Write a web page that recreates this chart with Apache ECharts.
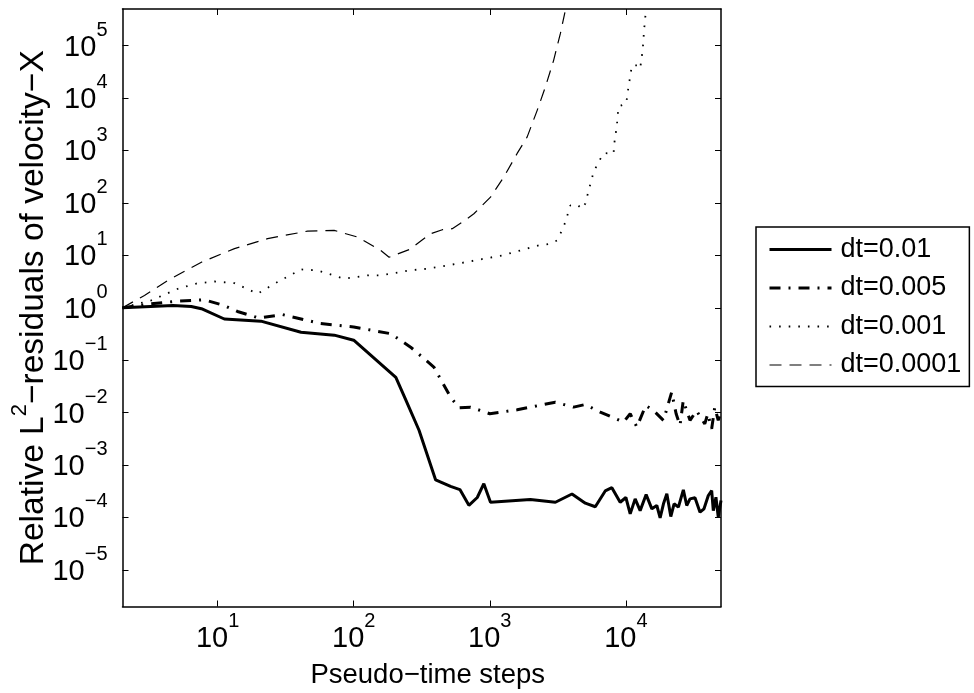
<!DOCTYPE html>
<html>
<head>
<meta charset="utf-8">
<script src="https://cdn.jsdelivr.net/npm/echarts@6/dist/echarts.min.js"></script>
<style>
html,body{margin:0;padding:0;background:#fff;}
#chart{width:974px;height:693px;}
</style>
</head>
<body>
<div id="chart"></div>
<script>
// ---- data ----
const seriesNames = ['dt=0.01', 'dt=0.005', 'dt=0.001', 'dt=0.0001'];

const dt01X = [2, 4.7, 6.4, 7.6, 11.2, 20.8, 41, 72, 100, 204, 240, 302, 400, 515, 603, 702, 809, 904, 1012, 1986, 3033, 4018, 5035, 5960, 7050, 7890, 9080, 10000, 10757, 11700, 12730, 14090, 15520, 16880, 17850, 18890, 20000, 21380, 22610, 24320, 26440, 28000, 29600, 32200, 35060, 37500, 40340, 42700, 43900, 45900, 47750, 50000];
const dt01Y = [1.0, 1.1, 1.06, 0.96, 0.61, 0.555, 0.34, 0.30, 0.24, 0.047, 0.018, 0.0046, 5.2e-4, 3.9e-4, 3.4e-4, 1.7e-4, 2.4e-4, 4.4e-4, 1.95e-4, 2.2e-4, 1.95e-4, 2.8e-4, 1.87e-4, 1.6e-4, 3.2e-4, 3.7e-4, 1.95e-4, 2.4e-4, 1.17e-4, 2.26e-4, 1.35e-4, 2.73e-4, 1.46e-4, 1.69e-4, 9.8e-5, 1.82e-4, 2.82e-4, 1.04e-4, 1.82e-4, 1.57e-4, 3.36e-4, 1.69e-4, 2.26e-4, 2.37e-4, 1.26e-4, 1.46e-4, 2.62e-4, 3.26e-4, 1.35e-4, 2.43e-4, 1.01e-4, 2.1e-4];

const dt005X = [2, 3.25, 4.82, 8.0, 11.2, 14, 20, 30, 57, 100, 187, 262, 388, 515, 593, 722, 1000, 1590, 3030, 4130, 5035, 6480, 9610, 10757, 12050, 14000, 16000, 18890, 21700, 23400, 25000, 26400, 29600, 33000, 38000, 40000, 42700, 45000, 47700, 50000];
const dt005Y = [1.0, 1.19, 1.32, 1.42, 1.1, 0.85, 0.64, 0.74, 0.5, 0.43, 0.32, 0.177, 0.074, 0.0197, 0.0124, 0.0127, 0.0095, 0.0113, 0.0158, 0.0127, 0.0143, 0.0102, 0.0066, 0.0095, 0.0053, 0.0137, 0.0109, 0.0071, 0.0245, 0.0095, 0.0057, 0.017, 0.0071, 0.0109, 0.0061, 0.0095, 0.0049, 0.0127, 0.0071, 0.0102];

const dt001X = [2, 3.25, 5.1, 7, 9.5, 13.3, 19.7, 26.1, 41, 54.3, 85, 126, 158, 187, 255, 347, 487, 664, 904, 1233, 1680, 2287, 2790, 3120, 3395, 3590, 3910, 4375, 4760, 5035, 5330, 5790, 6300, 6860, 8120, 8200, 8590, 8830, 10050, 10450, 11070, 12050, 12730, 13300, 13600, 14000, 14300];
const dt001Y = [1.0, 1.38, 2.3, 2.9, 3.17, 2.95, 1.85, 2.87, 5.38, 5.16, 3.58, 4.14, 4.14, 4.45, 5.15, 5.55, 6.4, 7.4, 8.6, 9.96, 12.4, 15.5, 16.6, 19.2, 29.9, 43, 89.6, 93.5, 77, 97, 173, 387, 601, 892, 870, 1306, 3010, 6920, 7800, 16200, 42000, 42000, 36400, 84000, 196000, 437000, 1100000];

const dt0001X = [2, 2.9, 4.3, 7.6, 13.3, 23.3, 45.8, 71.8, 107, 158, 182, 259, 311, 367, 448, 530, 645, 764, 1012, 1268, 1585, 1880, 2230, 2560, 2945, 3300, 3590, 3800];
const dt0001Y = [1.0, 1.72, 3.32, 7.4, 13.4, 20.8, 29, 29.9, 22.3, 12.4, 9.2, 13, 18.7, 25.8, 30.8, 32.2, 45, 62, 129, 311, 869, 1800, 5830, 16200, 52500, 169000, 472000, 1200000];

const xTicks = [10, 100, 1000, 10000];
const yTicks = [1e-5, 1e-4, 1e-3, 1e-2, 1e-1, 1, 10, 100, 1000, 10000, 100000];
const xLimits = [2, 50000];
const yLimits = [2e-6, 5e5];
const xTitle = 'Pseudo\u2212time steps';
const yTitleParts = ['Relative L', '2', '\u2212residuals of velocity\u2212X'];

// ---- build ----
const FONT = '"Liberation Sans", Arial, Helvetica, sans-serif';
const zip = (xs, ys) => xs.map((x, i) => [x, ys[i]]);

function powLabel(v) {
  const e = Math.round(Math.log10(v));
  const s = e < 0 ? '\u2212' + Math.abs(e) : String(e);
  return '{b|10}{s|' + s + '}';
}
const labelRich = {
  b: { fontFamily: FONT, fontSize: 29, lineHeight: 29, color: '#000', verticalAlign: 'bottom' },
  s: { fontFamily: FONT, fontSize: 20, lineHeight: 42, color: '#000', verticalAlign: 'top' }
};

const borderLine = { show: true, lineStyle: { color: '#000', width: 1.5 } };

const chart = echarts.init(document.getElementById('chart'), null, { renderer: 'canvas' });
const option = {
  animation: false,
  backgroundColor: '#fff',
  grid: { left: 122.5, right: 253, top: 9, bottom: 86.5, containLabel: false, outerBoundsMode: 'none' },
  legend: {
    orient: 'vertical',
    left: 756, top: 227,
    data: seriesNames,
    backgroundColor: '#fff',
    borderColor: '#000', borderWidth: 1.5,
    padding: [9, 8, 8, 12],
    itemWidth: 62, itemHeight: 27, itemGap: 11.5,
    itemStyle: { opacity: 0 },
    lineStyle: { width: 'inherit' },
    textStyle: { fontFamily: FONT, fontSize: 27, color: '#000', lineHeight: 27, padding: [0, 0, 0, 4] }
  },
  xAxis: [
    {
      type: 'log', logBase: 10, min: xLimits[0], max: xLimits[1], position: 'bottom',
      axisLine: borderLine,
      axisTick: { show: true, inside: true, length: 6, customValues: xTicks, lineStyle: { color: '#000', width: 1 } },
      axisLabel: { show: true, customValues: xTicks, formatter: powLabel, rich: labelRich, margin: 5, padding: [0, 0, 9, 0] },
      splitLine: { show: false }, minorTick: { show: false },
      name: xTitle, nameLocation: 'middle', nameGap: 55, nameMoveOverlap: false,
      nameTextStyle: { fontFamily: FONT, fontSize: 27.5, color: '#000', padding: [0, 0, 0, 12] }
    },
    {
      type: 'log', logBase: 10, min: xLimits[0], max: xLimits[1], position: 'top',
      axisLine: borderLine,
      axisTick: { show: true, inside: true, length: 6, customValues: xTicks, lineStyle: { color: '#000', width: 1 } },
      axisLabel: { show: false }, splitLine: { show: false }, minorTick: { show: false }
    }
  ],
  yAxis: [
    {
      type: 'log', logBase: 10, min: yLimits[0], max: yLimits[1], position: 'left',
      axisLine: borderLine,
      axisTick: { show: true, inside: true, length: 6, customValues: yTicks, lineStyle: { color: '#000', width: 1 } },
      axisLabel: { show: true, customValues: yTicks, formatter: powLabel, rich: labelRich, margin: 15, padding: [0, 0, 9, 0] },
      splitLine: { show: false }, minorTick: { show: false },
      name: '{a|' + yTitleParts[0] + '}{s|' + yTitleParts[1] + '}{a|' + yTitleParts[2] + '}',
      nameLocation: 'middle', nameGap: 72, nameRotate: 90, nameMoveOverlap: false,
      nameTextStyle: {
        fontFamily: FONT, fontSize: 33.5, color: '#000',
        rich: {
          a: { fontFamily: FONT, fontSize: 33.5, lineHeight: 34, color: '#000', verticalAlign: 'bottom' },
          s: { fontFamily: FONT, fontSize: 22, lineHeight: 42, color: '#000', verticalAlign: 'top' }
        }
      }
    },
    {
      type: 'log', logBase: 10, min: yLimits[0], max: yLimits[1], position: 'right',
      axisLine: borderLine,
      axisTick: { show: true, inside: true, length: 6, customValues: yTicks, lineStyle: { color: '#000', width: 1 } },
      axisLabel: { show: false }, splitLine: { show: false }, minorTick: { show: false }
    }
  ],
  series: [
    { name: seriesNames[0], type: 'line', data: zip(dt01X, dt01Y), symbol: 'none', showSymbol: false, clip: true,
      itemStyle: { color: '#000' }, lineStyle: { color: '#000', width: 3, type: 'solid' } },
    { name: seriesNames[1], type: 'line', data: zip(dt005X, dt005Y), symbol: 'none', showSymbol: false, clip: true,
      itemStyle: { color: '#000' }, lineStyle: { color: '#000', width: 3, type: [11, 8, 2, 8] } },
    { name: seriesNames[2], type: 'line', data: zip(dt001X, dt001Y), symbol: 'none', showSymbol: false, clip: true,
      itemStyle: { color: '#000' }, lineStyle: { color: '#000', width: 1.8, type: [1.6, 8] } },
    { name: seriesNames[3], type: 'line', data: zip(dt0001X, dt0001Y), symbol: 'none', showSymbol: false, clip: true,
      itemStyle: { color: '#000' }, lineStyle: { color: '#000', width: 1.2, type: [12, 8] } }
  ]
};
chart.setOption(option);
</script>
</body>
</html>
